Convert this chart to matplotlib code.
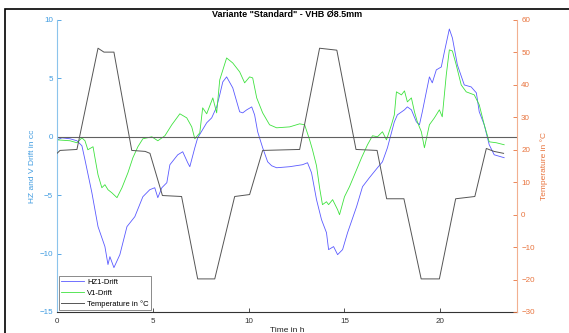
import matplotlib
matplotlib.use('Agg')
import matplotlib.pyplot as plt
from matplotlib.patches import Rectangle

# temperature (right axis), time in h / degC
temp_t = [0, 0.16, 1.04, 2.14, 2.45, 2.97, 3.9, 4.6, 4.85, 5.5, 6.5, 7.34, 8.23,
          9.27, 10.05, 10.73, 12.66, 13.7, 14.6, 15.6, 16.7, 17.2, 18.1, 19.0,
          19.95, 20.8, 21.8, 22.4, 22.8, 23.3]
temp_v = [18.9, 19.8, 20.1, 51.3, 50.1, 50.1, 19.8, 19.5, 18.9, 5.9, 5.6, -19.8, -19.8,
          5.6, 6.2, 19.8, 20.1, 51.3, 50.7, 20.1, 19.8, 4.9, 4.9, -19.8,
          -19.8, 4.9, 5.6, 20.4, 19.5, 18.9]

# HZ1 drift (left axis), cc
hz_t = [0, 0.26, 0.68, 1.04, 1.30, 1.46, 1.82, 2.14, 2.5, 2.66, 2.76, 2.97, 3.28, 3.65,
        4.06, 4.48, 4.84, 5.10, 5.26, 5.47, 5.73, 5.89, 6.30, 6.56, 6.82, 6.93, 7.19,
        7.34, 7.81, 8.07, 8.33, 8.49, 8.65, 8.85, 9.17, 9.53, 9.69, 9.90, 10.16, 10.31,
        10.47, 10.73, 10.99, 11.2, 11.46, 12.14, 12.81, 13.07, 13.28, 13.54, 13.80,
        14.06, 14.17, 14.43, 14.64, 14.90, 15.16, 15.63, 15.94, 16.30, 16.72, 16.98,
        17.24, 17.6, 17.76, 18.13, 18.28, 18.49, 18.75, 18.91, 19.06, 19.27, 19.43,
        19.58, 19.79, 20.05, 20.21, 20.47, 20.63, 20.89, 21.25, 21.61, 21.88, 22.03,
        22.29, 22.55, 22.81, 23.33]
hz_v = [-0.26, -0.09, -0.17, -0.34, -0.77, -1.97, -4.79, -7.69, -9.40, -10.94, -10.26,
        -11.2, -10.09, -7.69, -6.84, -5.13, -4.53, -4.36, -5.21, -4.36, -3.93, -2.39,
        -1.54, -1.28, -2.22, -2.56, -0.94, -0.09, 1.20, 1.62, 2.56, 3.59, 4.70, 5.13,
        4.19, 2.14, 2.05, 2.31, 2.56, 1.88, 0.43, -0.94, -2.14, -2.48, -2.65, -2.56,
        -2.39, -2.22, -3.08, -5.38, -7.09, -8.21, -9.66, -9.40, -10.09, -9.66, -8.21,
        -5.98, -4.27, -3.5, -2.65, -2.14, -0.94, 1.28, 1.88, 2.31, 2.56, 2.31, 1.28,
        1.03, 2.14, 3.85, 5.13, 4.62, 5.73, 5.98, 7.26, 9.23, 8.46, 6.15, 4.44, 4.27,
        3.76, 2.14, 1.03, -0.68, -1.54, -1.79]

# V1 drift (left axis), cc
v_t = [0, 0.68, 1.04, 1.30, 1.46, 1.61, 1.88, 1.98, 2.14, 2.34, 2.5, 2.66, 2.86, 3.13,
       3.39, 3.70, 3.96, 4.22, 4.48, 4.95, 5.26, 5.63, 5.99, 6.41, 6.77, 7.03, 7.19,
       7.45, 7.6, 7.81, 8.13, 8.33, 8.49, 8.85, 9.17, 9.53, 9.79, 10.05, 10.21, 10.42,
       10.73, 11.09, 11.46, 12.14, 12.66, 12.92, 13.18, 13.33, 13.54, 13.70, 13.85,
       14.06, 14.17, 14.38, 14.64, 14.74, 15.0, 15.26, 15.63, 15.89, 16.2, 16.46,
       16.72, 16.98, 17.19, 17.45, 17.6, 17.71, 17.97, 18.13, 18.28, 18.49, 18.65,
       18.80, 19.01, 19.17, 19.43, 19.69, 19.95, 20.10, 20.31, 20.47, 20.63, 20.83,
       21.09, 21.35, 21.77, 22.03, 22.29, 22.55, 22.92, 23.33]
v_v = [-0.26, -0.34, -0.51, -0.09, -0.34, -1.11, -0.85, -1.79, -3.25, -4.36, -4.10,
       -4.53, -4.79, -5.21, -4.36, -3.08, -1.79, -0.85, -0.17, 0.0, -0.34, 0.09, 1.03,
       1.97, 1.62, 0.85, -0.17, 0.34, 2.48, 1.97, 3.33, 2.05, 4.87, 6.75, 6.32, 5.56,
       4.62, 5.13, 5.04, 3.33, 2.05, 1.03, 0.77, 0.85, 1.11, 1.03, -0.26, -1.11, -2.48,
       -4.36, -5.81, -5.56, -5.81, -5.38, -6.24, -6.67, -5.13, -4.27, -2.82, -1.79,
       -0.68, 0.09, 0.0, 0.43, -0.26, 1.03, 1.88, 3.85, 3.59, 3.93, 2.99, 3.33, 2.14,
       1.28, 0.43, -0.94, 1.03, 1.62, 2.31, 1.71, 5.30, 7.44, 7.35, 6.15, 4.44, 3.85,
       3.59, 2.74, 1.03, -0.43, -0.51, -0.68]

left_c = '#3f9be0'
right_c = '#e8743e'

plt.rcParams['font.family'] = ['Liberation Sans', 'DejaVu Sans']
fig = plt.figure(figsize=(5.69, 3.33), dpi=100)
ax = fig.add_axes([57/569, 1-312/333, 460/569, 292/333])
ax2 = ax.twinx()

fig.patches.append(Rectangle((5/569, -0.2), 1.2, 1.2 - 9/333, transform=fig.transFigure,
                             fill=False, edgecolor='black', linewidth=1.2))

l1, = ax.plot(hz_t, hz_v, color='#5a5aff', linewidth=0.6, label='HZ1-Drift')
l2, = ax.plot(v_t, v_v, color='#3ee23e', linewidth=0.6, label='V1-Drift')
ax.plot([0, 24], [0, 0], color='#606060', linewidth=0.8)
l3, = ax2.plot(temp_t, temp_v, color='#555555', linewidth=0.7, label='Temperature in °C')

ax.set_xlim(0, 24)
ax.set_ylim(-15, 10)
ax2.set_ylim(-30, 60)
ax.set_xticks([0, 5, 10, 15, 20])
ax.set_yticks([-15, -10, -5, 0, 5, 10])
ax2.set_yticks(range(-30, 61, 10))

for a in (ax, ax2):
    a.spines['top'].set_visible(False)
ax.spines['right'].set_visible(False)
ax.spines['left'].set_color('#8cc4ec')
ax2.spines['left'].set_visible(False)
ax2.spines['right'].set_color('#f2b090')
ax.spines['bottom'].set_color('#333333')
ax2.spines['bottom'].set_visible(False)

ax.tick_params(axis='x', direction='in', length=3, width=0.6, labelsize=5.8, pad=4,
               colors='#333333')
ax.tick_params(axis='y', direction='in', length=3, width=0.6, labelsize=5.8, pad=3,
               colors=left_c)
ax2.tick_params(axis='y', direction='in', length=3, width=0.6, labelsize=5.8, pad=3,
                colors=right_c)

ax.set_ylabel('HZ and V Drift in cc', fontsize=6, color=left_c)
ax.yaxis.set_label_coords(-0.046, 0.5)
ax2.set_ylabel('Temperature in °C', fontsize=6, color=right_c)
ax2.yaxis.set_label_coords(1.05, 0.5)
ax.set_xlabel('Time in h', fontsize=6, color='#222222')
ax.xaxis.set_label_coords(0.5, -0.05)
ax.set_title('Variante "Standard" - VHB Ø8.5mm', fontsize=6.5, fontweight='bold', pad=2)

leg = ax2.legend(handles=[l1, l2, l3], loc='lower left', fontsize=5.5, frameon=True,
                 fancybox=False, edgecolor='#555555', handlelength=3.0, borderpad=0.3,
                 labelspacing=0.45, handletextpad=0.4, borderaxespad=0.25)
leg.get_frame().set_linewidth(0.6)

fig.savefig('out.png', dpi=100)
